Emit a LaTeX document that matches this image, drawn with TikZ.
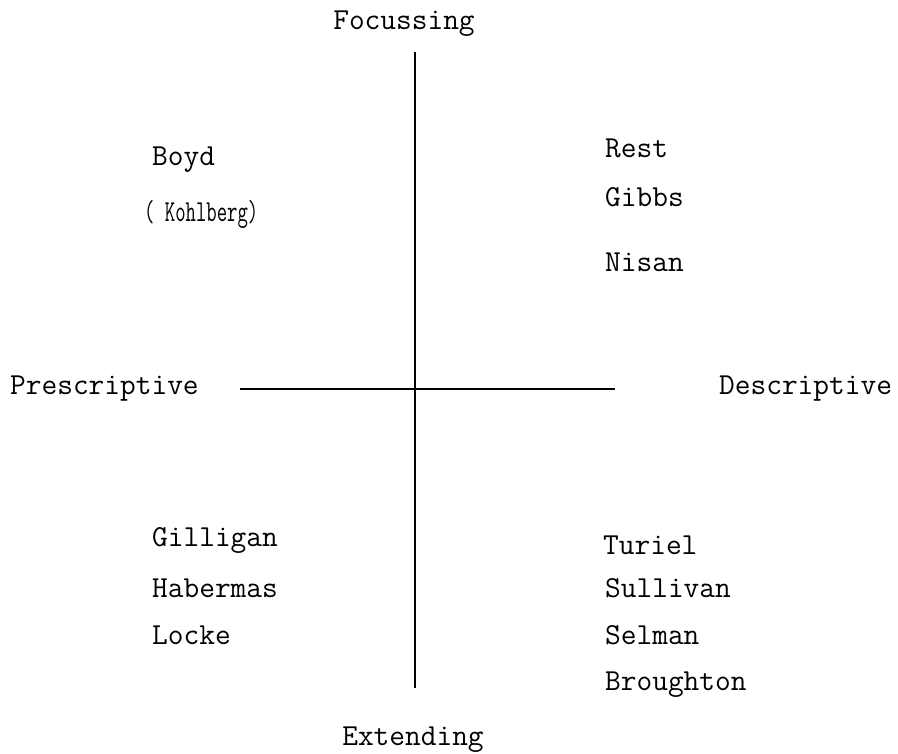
\documentclass[tikz,border=0pt]{standalone}
\usepackage{graphicx}
\begin{document}
\begin{tikzpicture}[x=1pt,y=-1pt,
  lbl/.style={font=\ttfamily\fontsize{30.5}{35}\selectfont, inner sep=0pt, anchor=west},
  ctr/.style={font=\ttfamily\fontsize{30.5}{35}\selectfont, inner sep=0pt},
  axis/.style={line width=1.8pt, black}]
\useasboundingbox (0,0) rectangle (898,754);
\coordinate (top) at (415,52);
\coordinate (bot) at (415,688);
\coordinate (lft) at (240,389);
\coordinate (rgt) at (615,389);
\draw[axis] (top) -- (bot);
\draw[axis] (lft) -- (rgt);
\node[ctr] (foc) at (404,24) {Focussing};
\node[ctr] (ext) at (413,740) {Extending};
\node[lbl] (pre) at (10,389) {Prescriptive};
\node[lbl] (des) at (719,389) {Descriptive};
\node[lbl] (boyd) at (152,160) {Boyd};
\node[lbl] (kohl) at (144,214) {\scalebox{0.66}[1]{( Kohlberg)}};
\node[lbl] (rest) at (605,148) {Rest};
\node[lbl] (gibbs) at (605,197) {Gibbs};
\node[lbl] (nisan) at (605,262) {Nisan};
\node[lbl] (gill) at (152,540) {Gilligan};
\node[lbl] (hab) at (152,588) {Habermas};
\node[lbl] (locke) at (152,635) {Locke};
\node[lbl] (tur) at (603,545) {Turiel};
\node[lbl] (sull) at (605,588) {Sullivan};
\node[lbl] (sel) at (605,635) {Selman};
\node[lbl] (brou) at (605,685) {Broughton};
\end{tikzpicture}
\end{document}
